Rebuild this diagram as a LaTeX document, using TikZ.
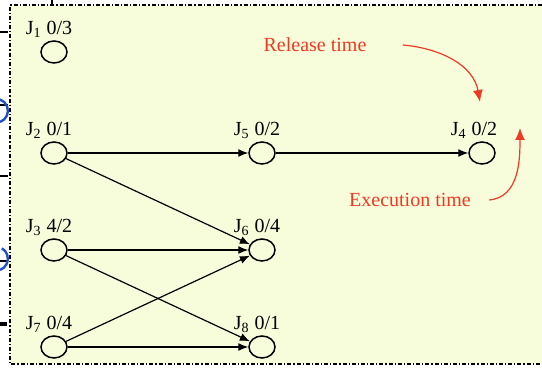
\documentclass[tikz,border=0pt]{standalone}
\usepackage{fontspec}
\setmainfont{Liberation Serif}
\usepackage{xcolor}
\definecolor{paper}{HTML}{F7FCDB}
\definecolor{redink}{HTML}{EE3A24}
\definecolor{slideblue}{HTML}{2050C8}
\usetikzlibrary{arrows.meta,positioning,shapes.geometric}
\tikzset{>={Latex[length=5pt,width=4pt]},
  job/.style={draw,line width=0.75pt,ellipse,minimum width=13pt,minimum height=11pt,
    inner sep=0pt,label distance=0pt},
  lbl/.style={font=\fontsize{10}{11}\selectfont,inner sep=1pt,xshift=-2.5pt},
  flow/.style={->,line width=0.6pt},
  note/.style={text=redink,font=\fontsize{10}{11}\selectfont,inner sep=0pt},
  notearrow/.style={-{Latex[length=6pt,width=5pt]},redink,line width=0.6pt},
  frame/.style={line width=1pt,dash pattern=on 2pt off 1pt on 0.6pt off 1pt}}

\begin{document}
\begin{tikzpicture}[x=0.5pt,y=-0.5pt]
  \useasboundingbox (0,0) rectangle (542,368);
  % slide panel
  \fill[paper] (10,5) rectangle (542,364);
  \draw[frame] (542,5) -- (10,5) -- (10,364) -- (542,364);
  % bits of the neighbouring slide content
  \draw[line width=0.8pt] (0,32) -- (8,32) (0,105) -- (8,105) (0,176) -- (8,176)
    (0,261) -- (8,261) (52,0) -- (52,6);
  \draw[line width=2pt] (0,324) -- (7,324);
  \draw[slideblue,line width=1.2pt] (0,122) arc[start angle=70,end angle=-70,radius=12];
  \draw[slideblue,line width=1.2pt] (0,270) arc[start angle=70,end angle=-60,radius=12];

  % jobs
  \node[job,label={[lbl]above:J\textsubscript{1} 0/3}] (j1) at (54,52) {};
  \node[job,label={[lbl]above:J\textsubscript{2} 0/1}] (j2) at (54,153) {};
  \node[job,label={[lbl]above:J\textsubscript{3} 4/2}] (j3) at (54,250) {};
  \node[job,label={[lbl]above:J\textsubscript{7} 0/4}] (j7) at (54,347) {};
  \node[job,label={[lbl]above:J\textsubscript{5} 0/2}] (j5) at (262,153) {};
  \node[job,label={[lbl]above:J\textsubscript{6} 0/4}] (j6) at (262,250) {};
  \node[job,label={[lbl]above:J\textsubscript{8} 0/1}] (j8) at (262,347) {};
  \node[job,label={[lbl,xshift=-1.5pt]above:J\textsubscript{4} 0/2}] (j4) at (482,153) {};

  \draw[flow] (j2)--(j5);\draw[flow] (j5)--(j4);
  \draw[flow] (j2)--(j6);\draw[flow] (j3)--(j6);\draw[flow] (j3)--(j8);
  \draw[flow] (j7)--(j6);\draw[flow] (j7)--(j8);

  % notes
  \node[note] (rel) at (315,45) {Release time};
  \node[note] (exe) at (410,200) {Execution time};
  \coordinate (reltip) at (480,102);
  \coordinate (exetip) at (520,128);
  \draw[notearrow] ([xshift=18pt]rel.east) to[out=-5,in=100] (reltip);
  \draw[notearrow] ([xshift=9pt]exe.east) to[out=5,in=-90] (exetip);
\end{tikzpicture}
\end{document}
